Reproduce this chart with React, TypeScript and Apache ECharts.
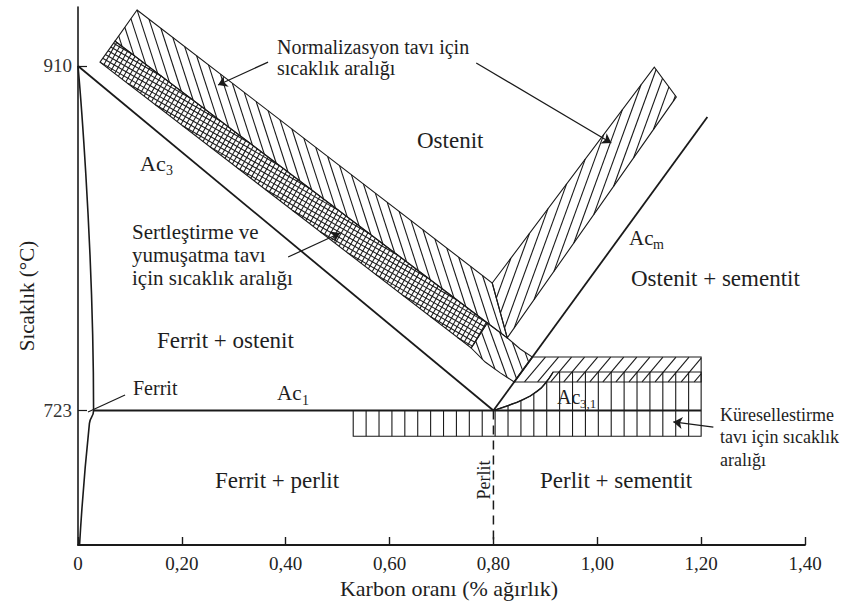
import React, { useEffect, useRef } from 'react';
import * as echarts from 'echarts';

type Pt = [number, number];

// ---- axes ----
const X_MIN = 0;
const X_MAX = 1.4;
const X_STEP = 0.2;
const Y_MIN = 650;
const Y_MAX = 942;
const yTickValues = [723, 910];

// ---- phase boundary lines (carbon %, temperature °C) ----
const ferritLine: Pt[] = [[0, 910], [0.03, 723], [0.022, 716], [0.003, 650]];
const ac3Line: Pt[] = [[0, 910], [0.8, 723]];
const ac1Line: Pt[] = [[0.03, 723], [1.2, 723]];
const acmLine: Pt[] = [[0.8, 723], [1.212, 882.3]];
const ac31Curve: Pt[] = [[0.8, 723], [0.842, 727.1], [0.871, 730.9], [0.892, 735.2], [0.9075, 740.6], [0.915, 743.9]];
const perlitLine: Pt[] = [[0.8, 723], [0.8, 650]];

// ---- heat treatment ranges ----
const normLeft: Pt[] = [[0.1137, 940.4], [0.7977, 792.2], [0.8266, 762.4], [0.0713, 923.5]];
const normRight: Pt[] = [[0.7977, 792.2], [1.1098, 909.4], [1.1522, 893.2], [0.8266, 762.4]];
const hardenCross: Pt[] = [[0.0424, 912.1], [0.0713, 923.5], [0.7881, 770.5], [0.7572, 756.9]];
const hardenBend: Pt[] = [[0.7881, 770.5], [0.8266, 762.4], [0.8516, 756.4], [0.875, 752.0], [0.84, 738.5], [0.8131, 743.4], [0.7842, 749.3], [0.7572, 756.9]];
const hardenFlat: Pt[] = [[0.875, 752.0], [1.2, 752.0], [1.2, 738.5], [0.84, 738.5]];
const spheroid: Pt[] = [[0.53, 709], [1.2, 709], [1.2, 743.9], [0.915, 743.9], [0.9075, 740.6], [0.892, 735.2], [0.871, 730.9], [0.842, 727.1], [0.8, 723], [0.53, 723]];

// ---- leader lines ----
const leaderNorm1: Pt[] = [[0.366, 912.1], [0.2697, 899.7]];
const leaderNorm2: Pt[] = [[0.7669, 911.6], [1.027, 868.2]];
const leaderHarden: Pt[] = [[0.4046, 806.3], [0.5048, 819.3]];
const leaderFerrit: Pt[] = [[0.0906, 731.4], [0.0193, 722.2]];
const leaderSpher: Pt[] = [[1.2235, 714.0], [1.1464, 716.8]];

const INK = '#1a1a1a';
const FONT = '"Liberation Serif", "Times New Roman", serif';

interface Hatch { angle: number; spacing: number; width: number }
interface Region { poly: Pt[]; hatches: Hatch[]; outline: boolean }

const regions: Region[] = [
  { poly: normLeft, hatches: [{ angle: 108, spacing: 8.5, width: 1.1 }], outline: true },
  { poly: normRight, hatches: [{ angle: 70, spacing: 9, width: 1.1 }], outline: true },
  { poly: hardenCross, hatches: [{ angle: 60, spacing: 4.6, width: 1.05 }, { angle: 150, spacing: 4.6, width: 1.05 }], outline: true },
  { poly: hardenBend, hatches: [{ angle: 110, spacing: 8.5, width: 1.1 }], outline: true },
  { poly: hardenFlat, hatches: [{ angle: 50, spacing: 10, width: 1.1 }], outline: true },
  { poly: spheroid, hatches: [{ angle: 90, spacing: 12.9, width: 1.1 }], outline: true },
];

function hatchSegments(pts: number[][], angleDeg: number, spacing: number) {
  const a = (angleDeg * Math.PI) / 180;
  const d = [Math.cos(a), -Math.sin(a)];
  const n = [-d[1], d[0]];
  const proj = pts.map((p) => p[0] * n[0] + p[1] * n[1]);
  const pmin = Math.min(...proj);
  const pmax = Math.max(...proj);
  const p0 = proj[0];
  const segs: number[][] = [];
  const k0 = Math.ceil((pmin - p0) / spacing);
  const k1 = Math.floor((pmax - p0) / spacing);
  for (let k = k0; k <= k1; k++) {
    const p = p0 + k * spacing;
    const hits: number[][] = [];
    for (let i = 0; i < pts.length; i++) {
      const j = (i + 1) % pts.length;
      const pa = proj[i] - p;
      const pb = proj[j] - p;
      if ((pa < 0 && pb >= 0) || (pa >= 0 && pb < 0)) {
        const t = pa / (pa - pb);
        hits.push([pts[i][0] + t * (pts[j][0] - pts[i][0]), pts[i][1] + t * (pts[j][1] - pts[i][1])]);
      }
    }
    hits.sort((u, v) => u[0] * d[0] + u[1] * d[1] - (v[0] * d[0] + v[1] * d[1]));
    for (let m = 0; m + 1 < hits.length; m += 2) {
      segs.push([hits[m][0], hits[m][1], hits[m + 1][0], hits[m + 1][1]]);
    }
  }
  return segs;
}

function lineSeries(data: Pt[], width = 1.6, dashed = false, smooth = false) {
  return {
    type: 'line',
    data,
    showSymbol: false,
    symbol: 'none',
    smooth,
    silent: true,
    clip: false,
    lineStyle: { color: INK, width, type: dashed ? [9, 6] : 'solid' },
    z: 5,
  };
}

type Lbl = { t: string; x: number; y: number; s: number; align?: string; rot?: number };
const labels: Lbl[] = [
  { t: 'Normalizasyon tavı için', x: 277, y: 47, s: 20 },
  { t: 'sıcaklık aralığı', x: 277, y: 68, s: 20 },
  { t: 'Ostenit', x: 417, y: 140, s: 23 },
  { t: 'Ac', x: 140, y: 163, s: 22 },
  { t: '3', x: 166, y: 170, s: 14 },
  { t: 'Sertleştirme ve', x: 132, y: 232, s: 21 },
  { t: 'yumuşatma tavı', x: 132, y: 255, s: 21 },
  { t: 'için sıcaklık aralığı', x: 132, y: 278, s: 21 },
  { t: 'Ac', x: 629, y: 238, s: 21 },
  { t: 'm', x: 653, y: 244, s: 14 },
  { t: 'Ostenit + sementit', x: 631, y: 278, s: 23 },
  { t: 'Ferrit + ostenit', x: 157, y: 340, s: 23 },
  { t: 'Ferrit', x: 133, y: 388, s: 20 },
  { t: 'Ac', x: 277, y: 393, s: 21 },
  { t: '1', x: 302, y: 400, s: 14 },
  { t: 'Ac', x: 557, y: 397, s: 20 },
  { t: '3,1', x: 580, y: 403, s: 13 },
  { t: 'Küresellestirme', x: 720, y: 415, s: 18 },
  { t: 'tavı için sıcaklık', x: 720, y: 437, s: 18 },
  { t: 'aralığı', x: 720, y: 460, s: 18 },
  { t: 'Ferrit + perlit', x: 215, y: 480, s: 23 },
  { t: 'Perlit + sementit', x: 540, y: 480, s: 23 },
  { t: 'Perlit', x: 484, y: 480, s: 18, align: 'center', rot: Math.PI / 2 },
  { t: 'Sıcaklık (°C)', x: 27, y: 296, s: 21, align: 'center', rot: Math.PI / 2 },
  { t: 'Karbon oranı (% ağırlık)', x: 449, y: 588, s: 22, align: 'center' },
];

export default function App() {
  const ref = useRef<HTMLDivElement>(null);
  useEffect(() => {
    if (!ref.current) return;
    const chart = echarts.init(ref.current, null, { renderer: 'svg' });
    const option: any = {
      animation: false,
      backgroundColor: '#ffffff',
      grid: { left: 78, right: 43, top: 7, bottom: 56, containLabel: false },
      xAxis: {
        type: 'value',
        min: X_MIN,
        max: X_MAX,
        interval: X_STEP,
        axisLine: { show: true, onZero: false, lineStyle: { color: INK, width: 1.8 } },
        axisTick: { show: true, inside: true, length: 8, lineStyle: { color: INK, width: 1.4 } },
        axisLabel: {
          fontFamily: FONT,
          fontSize: 19,
          color: '#222',
          margin: 9,
          formatter: (v: number) => (v === 0 ? '0' : v.toFixed(2).replace('.', ',')),
        },
        splitLine: { show: false },
      },
      yAxis: {
        type: 'value',
        min: Y_MIN,
        max: Y_MAX,
        axisLine: { show: true, onZero: false, lineStyle: { color: INK, width: 1.6 } },
        axisTick: { show: true, inside: true, length: 9, customValues: yTickValues, lineStyle: { color: INK, width: 1.2 } },
        axisLabel: { fontFamily: FONT, fontSize: 19, color: '#333', margin: 6, customValues: yTickValues },
        splitLine: { show: false },
      },
      series: [
        {
          type: 'custom',
          coordinateSystem: 'cartesian2d',
          clip: false,
          silent: true,
          z: 3,
          data: regions.map((r) => r.poly[0]),
          renderItem: (params: any, api: any) => {
            const r = regions[params.dataIndex];
            const pts = r.poly.map((p) => api.coord(p));
            const children: any[] = [];
            r.hatches.forEach((h) => {
              hatchSegments(pts, h.angle, h.spacing).forEach((s) => {
                children.push({
                  type: 'line',
                  shape: { x1: s[0], y1: s[1], x2: s[2], y2: s[3] },
                  style: { stroke: INK, lineWidth: h.width },
                });
              });
            });
            if (r.outline) {
              children.push({
                type: 'polygon',
                shape: { points: pts },
                style: { fill: 'transparent', stroke: INK, lineWidth: 1.1 },
              });
            }
            return { type: 'group', children };
          },
        },
        lineSeries(ferritLine, 1.6, false, true),
        lineSeries(ac3Line, 1.8),
        lineSeries(ac1Line, 1.8),
        lineSeries(acmLine, 1.8),
        lineSeries(ac31Curve, 1.3, false, true),
        lineSeries(perlitLine, 1.5, true),
        {
          type: 'lines',
          coordinateSystem: 'cartesian2d',
          silent: true,
          z: 6,
          symbol: ['none', 'arrow'],
          symbolSize: [0, 9],
          lineStyle: { color: INK, width: 1.2, opacity: 1 },
          data: [leaderNorm1, leaderNorm2, leaderHarden, leaderSpher].map((c) => ({ coords: c })),
        },
        {
          type: 'lines',
          coordinateSystem: 'cartesian2d',
          silent: true,
          z: 6,
          symbol: ['none', 'none'],
          lineStyle: { color: INK, width: 1.2, opacity: 1 },
          data: [{ coords: leaderFerrit }],
        },
      ],
      graphic: labels.map((l) => ({
        type: 'text',
        x: l.x,
        y: l.y,
        rotation: l.rot || 0,
        silent: true,
        z: 10,
        style: {
          text: l.t,
          x: 0,
          y: 0,
          font: `${l.s}px ${FONT}`,
          fill: '#1e1e1e',
          align: l.align || 'left',
          verticalAlign: 'middle',
          textAlign: l.align || 'left',
          textVerticalAlign: 'middle',
        },
      })),
    };
    chart.setOption(option);
    return () => chart.dispose();
  }, []);
  return <div ref={ref} style={{ position: 'absolute', left: 0, top: 0, width: 848, height: 601, background: '#fff' }} />;
}
